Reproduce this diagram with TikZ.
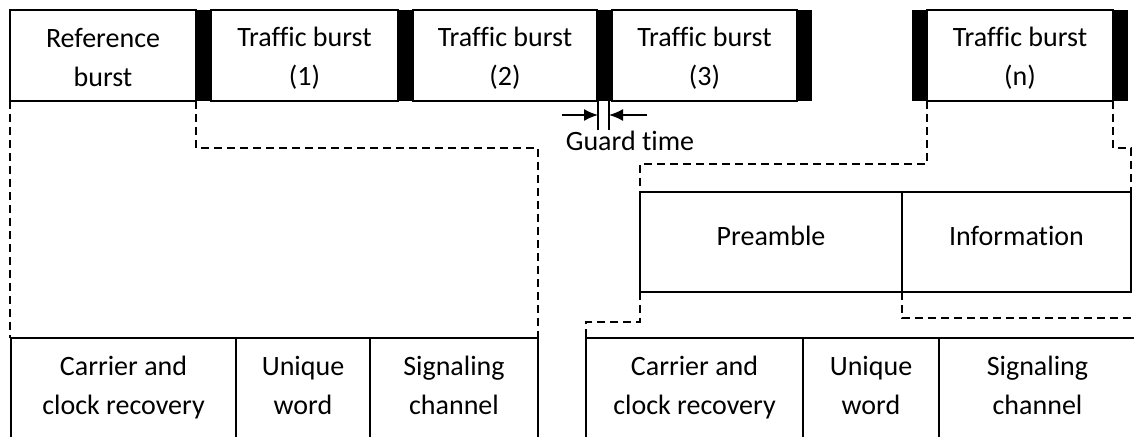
\documentclass[tikz,border=0pt]{standalone}
\usepackage{fontspec}
\setmainfont[Ligatures=NoCommon]{Carlito}
\usetikzlibrary{arrows.meta}
\newcommand\tst{\rule[-2.5pt]{0pt}{27.5pt}}
\newcommand\bst{\rule[-7pt]{0pt}{27.5pt}}
\newcommand\mst{\rule[-14pt]{0pt}{34pt}}
\begin{document}
\begin{tikzpicture}[x=1pt,y=-1pt,
  box/.style={draw=black,line width=2pt,inner sep=0pt,outer sep=0pt,anchor=north west,align=center,font=\fontsize{28}{39.5}\selectfont},
  bar/.style={fill=black,draw=none,inner sep=0pt,outer sep=0pt,anchor=north west,minimum width=15pt,minimum height=91pt},
  dline/.style={draw=black,line width=1.6pt,dash pattern=on 8pt off 5pt},
  gline/.style={draw=black,line width=1.6pt},
  garrow/.style={draw=black,line width=1.6pt,-{Latex[length=14pt,width=12pt]}},
  lbl/.style={font=\fontsize{28}{34}\selectfont,inner sep=0pt}]
\useasboundingbox (0,0) rectangle (1134,436);
% top row
\node[bar] (g1) at (196,10) {};
\node[bar] (g2) at (398,10) {};
\node[bar] (g3) at (597,10) {};
\node[bar] (g4) at (797,10) {};
\node[bar] (g5) at (912,10) {};
\node[bar] (g6) at (1113,10) {};
\node[box,minimum width=186pt,minimum height=91pt] (ref) at (10,10) {\tst Reference\\\tst burst};
\node[box,minimum width=187pt,minimum height=91pt] (t1) at (211,10) {\tst Traffic burst\\\tst (1)};
\node[box,minimum width=184pt,minimum height=91pt] (t2) at (413,10) {\tst Traffic burst\\\tst (2)};
\node[box,minimum width=185pt,minimum height=91pt] (t3) at (612,10) {\tst Traffic burst\\\tst (3)};
\node[box,minimum width=186pt,minimum height=91pt] (tn) at (927,10) {\tst Traffic burst\\\tst (n)};
% guard time
\coordinate (gl) at (598,101);
\coordinate (gr) at (609,101);
\coordinate (gla) at (562,115);
\coordinate (gra) at (647,115);
\draw[gline] (gl) -- ++(0,29);
\draw[gline] (gr) -- ++(0,29);
\draw[garrow] (gla) -- (gl |- gla);
\draw[garrow] (gra) -- (gr |- gra);
\node[lbl,anchor=base] (gt) at (630,150) {Guard time};
% middle row
\node[box,minimum width=262pt,minimum height=100pt] (pre) at (640,192) {\mst Preamble};
\node[box,minimum width=229pt,minimum height=100pt] (info) at (902,192) {\mst Information};
% bottom rows
\node[box,minimum width=225pt,minimum height=100pt] (c1) at (11,338) {\bst Carrier and\\\bst clock recovery};
\node[box,minimum width=134pt,minimum height=100pt] (u1) at (236,338) {\bst Unique\\\bst word};
\node[box,minimum width=168pt,minimum height=100pt] (s1) at (370,338) {\bst Signaling\\\bst channel};
\node[box,minimum width=217pt,minimum height=100pt] (c2) at (586,338) {\bst Carrier and\\\bst clock recovery};
\node[box,minimum width=136pt,minimum height=100pt] (u2) at (803,338) {\bst Unique\\\bst word};
\node[box,minimum width=197pt,minimum height=100pt] (s2) at (939,338) {\bst Signaling\\\bst channel};
% dashed connectors
\draw[dline] (ref.south west) -- (ref.south west |- c1.north);
\draw[dline] (g1.south west) -- ++(0,47) -| (s1.north east);
\draw[dline] (tn.south west) -- ++(0,63) -| (pre.north west);
\draw[dline] (tn.south east) -- ++(0,47) -| (info.north east);
\draw[dline] (pre.south west) -- ++(0,30) -| (c2.north west);
\coordinate (rend) at (1136,318);
\draw[dline] (pre.south east) -- (pre.south east |- rend) -- (rend);
\end{tikzpicture}
\end{document}
